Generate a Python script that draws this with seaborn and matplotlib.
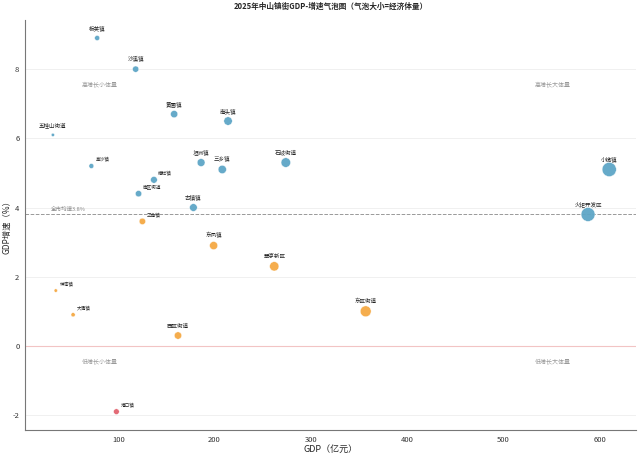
import matplotlib
matplotlib.use("Agg")
import matplotlib.pyplot as plt
import seaborn as sns
import pandas as pd

towns = ["板芙镇", "沙溪镇", "黄圃镇", "南头镇", "五桂山街道", "阜沙镇", "坦洲镇", "三乡镇",
         "石岐街道", "横栏镇", "南区街道", "古镇镇", "三角镇", "东凤镇", "翠亨新区", "神湾镇",
         "大涌镇", "西区街道", "东区街道", "港口镇", "小榄镇", "火炬开发区"]
gdp = [78, 118, 158, 214, 32, 72, 186, 208,
       274, 137, 121, 178, 125, 199, 262, 35,
       53, 162, 357, 98, 610, 588]
growth = [8.9, 8.0, 6.7, 6.5, 6.1, 5.2, 5.3, 5.1,
          5.3, 4.8, 4.4, 4.0, 3.6, 2.9, 2.3, 1.6,
          0.9, 0.3, 1.0, -1.9, 5.1, 3.8]
avg_growth = 3.8
side_labels = {"阜沙镇", "横栏镇", "南区街道", "三角镇", "神湾镇", "大涌镇", "港口镇"}

df = pd.DataFrame({"town": towns, "gdp": gdp, "growth": growth})
df["group"] = ["high" if g >= avg_growth else ("low" if g >= 0 else "neg") for g in df["growth"]]

sns.set_style("white")
plt.rcParams["font.family"] = ["Noto Sans CJK SC", "DejaVu Sans"]
plt.rcParams["axes.unicode_minus"] = False

fig = plt.figure(figsize=(6.4, 4.55), dpi=100)
ax = fig.add_axes([0.039, 0.055, 0.955, 0.901])

palette = {"high": "#5ea6c6", "low": "#f5a943", "neg": "#e2636f"}
sns.scatterplot(data=df, x="gdp", y="growth", hue="group", palette=palette,
                size="gdp", sizes=(0, 104), size_norm=(0, 610),
                alpha=0.95, edgecolor="white", linewidth=0.3, legend=False, ax=ax, zorder=3)

for _, r in df.iterrows():
    if r["town"] in side_labels:
        ax.annotate(r["town"], (r["gdp"], r["growth"]), xytext=(3, 3), textcoords="offset points",
                    fontsize=3.3, ha="left", va="bottom", color="#222222")
    else:
        ax.annotate(r["town"], (r["gdp"], r["growth"]), xytext=(0, 5), textcoords="offset points",
                    fontsize=4, ha="center", va="bottom", color="#222222")

ax.axhline(avg_growth, color="#999999", linestyle="--", linewidth=0.7, zorder=1)
ax.text(30, avg_growth + 0.08, "全市均速3.8%", fontsize=4, color="#888888", va="bottom")
ax.axhline(0, color="#f2c4c4", linewidth=0.8, zorder=1)

for qx, qy, qt in [(81, 7.55, "高增长小体量"), (551, 7.55, "高增长大体量"),
                   (81, -0.45, "低增长小体量"), (551, -0.45, "低增长大体量")]:
    ax.text(qx, qy, qt, fontsize=4.3, color="#999999", ha="center", va="center")

ax.set_xlim(3, 638)
ax.set_ylim(-2.43, 9.42)
ax.set_xticks([100, 200, 300, 400, 500, 600])
ax.set_yticks([-2, 0, 2, 4, 6, 8])
ax.yaxis.grid(True, color="#eeeeee", linewidth=0.6)
ax.set_axisbelow(True)
ax.tick_params(labelsize=5.5, length=2, width=0.6, pad=2, colors="#333333")
for s in ["top", "right"]:
    ax.spines[s].set_visible(False)
for s in ["left", "bottom"]:
    ax.spines[s].set_color("#777777")
    ax.spines[s].set_linewidth(0.8)

ax.set_xlabel("GDP（亿元）", fontsize=6.5, labelpad=1)
ax.set_ylabel("GDP增速（%）", fontsize=6, labelpad=1)
ax.set_title("2025年中山镇街GDP-增速气泡图（气泡大小=经济体量）", fontsize=5.5, fontweight="bold", pad=8)

fig.savefig("out.png", dpi=100)
